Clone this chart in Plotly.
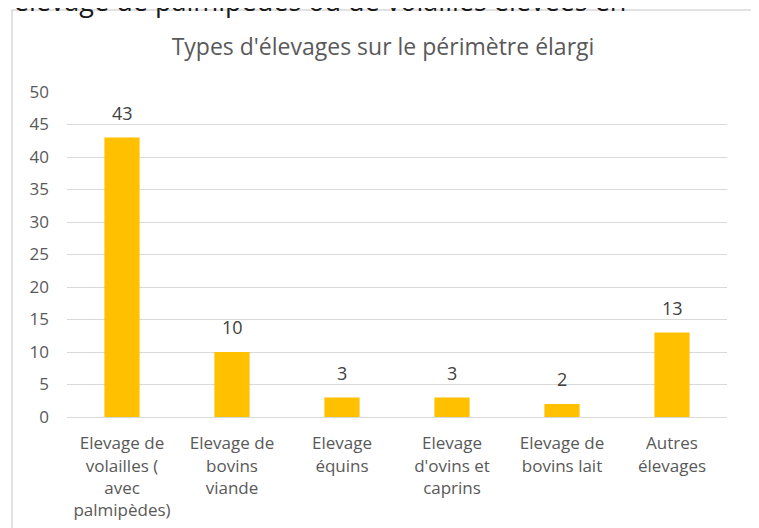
import plotly.graph_objects as go

FONT = "Open Sans"
TEXT = "#595959"
BAR = "#FFC000"
GRID = "#D9D9D9"

categories = [
    "Elevage de<br>volailles (<br>avec<br>palmipèdes)",
    "Elevage de<br>bovins<br>viande",
    "Elevage<br>équins",
    "Elevage<br>d'ovins et<br>caprins",
    "Elevage de<br>bovins lait",
    "Autres<br>élevages",
]
counts = [43, 10, 3, 3, 2, 13]
y_ticks = list(range(0, 51, 5))

# the page body adds 8px around the figure, so positions are taken 8px in
W, H = 759, 528
L, R, T, B = 59, 40, 84, 119
pw, ph = W - L - R, H - T - B


def px_x(p):
    return (p - L) / pw


def px_y(p):
    return (H - B - p) / ph


fig = go.Figure(
    go.Bar(
        x=categories,
        y=counts,
        marker=dict(color=BAR, line=dict(width=0)),
        width=0.32,
        hoverinfo="x+y",
    )
)

for cat, val in zip(categories, counts):
    fig.add_annotation(
        x=cat, y=val, text=str(val), showarrow=False,
        yanchor="bottom", yshift=11,
        font=dict(family=FONT, size=18, color="#404040"),
    )

# chart frame
fig.add_shape(
    type="rect", xref="paper", yref="paper",
    x0=px_x(4), x1=px_x(749), y0=px_y(540), y1=px_y(2),
    line=dict(color="#D9D9D9", width=1.5), fillcolor="rgba(0,0,0,0)", layer="below",
)

# surrounding document text, cut at the top
fig.add_annotation(
    xref="paper", yref="paper", x=px_x(-9), y=px_y(-8),
    xanchor="left", yanchor="middle", showarrow=False,
    text="l'élevage de palmipèdes ou de volailles élevées en",
    font=dict(family=FONT, size=27, color="#1a1a1a"),
)

fig.update_layout(
    width=W, height=H,
    margin=dict(l=L, r=R, t=T, b=B),
    paper_bgcolor="white",
    plot_bgcolor="white",
    font=dict(family=FONT, size=17, color=TEXT),
    title=dict(
        text="Types d'élevages sur le périmètre élargi",
        x=375 / W, xanchor="center",
        y=1 - 39 / H, yanchor="middle",
        font=dict(family=FONT, size=23, color=TEXT),
    ),
    showlegend=False,
)
fig.update_xaxes(
    showgrid=False, showline=True, linecolor=GRID, linewidth=1,
    tickfont=dict(family=FONT, size=17, color=TEXT),
    ticks="", ticklabelstandoff=11,
)
fig.update_yaxes(
    range=[0, 50], tickvals=y_ticks,
    showgrid=True, gridcolor=GRID, gridwidth=1, zeroline=False,
    showline=False, ticks="", ticklabelstandoff=17,
    tickfont=dict(family=FONT, size=17, color=TEXT),
)

fig.write_html("out.html")
